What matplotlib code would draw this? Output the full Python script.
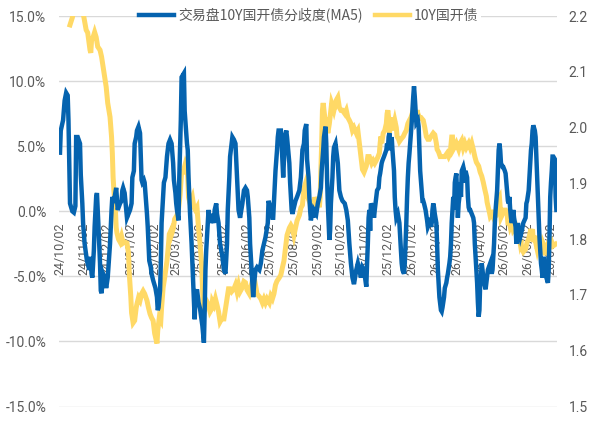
import datetime as dt
import numpy as np
import matplotlib
matplotlib.use("Agg")
import matplotlib.pyplot as plt
import matplotlib.dates as mdates
import matplotlib.transforms as mtransforms
from matplotlib.lines import Line2D
from matplotlib.ticker import FixedLocator, FuncFormatter

plt.rcParams['font.family'] = ['Noto Sans CJK SC', 'DejaVu Sans']
TICK_FAMILY = ['Roboto', 'Noto Sans CJK SC', 'DejaVu Sans']

# ---------------- data ----------------
start_date = "2024-10-02"
series_names = ["交易盘10Y国开债分歧度(MA5)", "10Y国开债"]

# blue: divergence MA5 (%), day offsets from start_date
div_days = [0, 1, 4, 6, 8, 10, 11, 12, 13, 16, 18, 20, 21, 23, 26, 27, 29, 30, 32, 35, 38, 40, 41, 42, 44, 45, 47, 48, 50, 52,
            53, 54, 56, 58, 60, 62, 65, 67, 68, 69, 71, 73, 75, 78, 80, 81, 82, 84, 86, 87, 89, 91, 93, 94, 96, 97, 99, 100, 102, 104,
            105, 106, 107, 109, 110, 112, 113, 114, 115, 116, 118, 119, 121, 124, 126, 127, 128, 130, 131, 132, 134, 135, 137, 138, 139, 141, 143, 145, 147, 148,
            150, 151, 152, 154, 155, 157, 158, 161, 162, 164, 165, 166, 167, 168, 169, 171, 172, 173, 174, 175, 176, 178, 180, 182, 185, 187, 188, 189, 190, 191,
            192, 193, 194, 195, 197, 198, 200, 201, 203, 204, 206, 208, 211, 213, 215, 217, 218, 220, 221, 223, 224, 226, 228, 229, 230, 231, 232, 234, 237, 239,
            241, 243, 244, 246, 247, 249, 250, 251, 253, 254, 256, 259, 261, 263, 265, 267, 270, 271, 272, 274, 276, 277, 279, 280, 282, 283, 284, 287, 288, 289,
            290, 291, 292, 294, 295, 298, 299, 301, 302, 304, 306, 308, 311, 313, 315, 317, 318, 320, 321, 323, 324, 325, 326, 328, 329, 330, 333, 335, 337, 339,
            340, 342, 343, 345, 346, 347, 348, 349, 350, 351, 352, 354, 355, 356, 358, 359, 361, 363, 365, 367, 370, 372, 374, 376, 378, 380, 382, 385, 387, 389,
            391, 393, 395, 398, 399, 400, 401, 402, 403, 404, 406, 407, 408, 409, 411, 412, 414, 415, 416, 418, 419, 421, 424, 425, 426, 427, 428, 429, 430, 431,
            432, 434, 435, 436, 437, 439, 441, 442, 443, 444, 445, 447, 448, 449, 450, 451, 452, 453, 454, 456, 457, 458, 459, 460, 461, 462, 463, 465, 466, 467,
            468, 470, 471, 472, 473, 475, 477, 478, 480, 481, 482, 483, 484, 485, 486, 487, 489, 490, 491, 492, 493, 495, 496, 497, 499, 500, 502, 503, 504, 506,
            507, 508, 509, 510, 511, 512, 513, 514, 515, 516, 517, 518, 519, 520, 521, 522, 524, 525, 526, 527, 529, 530, 531, 532, 533, 535, 537, 538, 539, 540,
            541, 542, 543, 544, 545, 546, 547, 548, 549, 550, 551, 553, 554, 556, 559, 560, 561, 562, 563, 564, 565, 566, 568, 569, 570, 571, 572, 573, 575, 576,
            578, 579, 580, 581, 582, 583, 584, 585, 586, 587, 588, 589, 590, 592, 593, 594, 595, 596, 598, 600, 602, 605, 606, 607, 609, 610, 611, 612, 613, 614,
            615, 617, 618, 619, 620, 621, 622, 623, 624, 625, 626, 627, 628, 629, 630, 631, 632, 633, 634, 635, 636, 637, 638, 639, 640, 641, 643, 644, 645]
div_vals = [4.5, 6.2, 7.0, 8.5, 9.1, 8.9, 7.0, 3.9, 0.6, 0.0, -0.1, 0.4, 5.7, 5.7, 5.2, 2.8, 0.6, -0.9, -2.5, -3.8, -4.5, -3.5, -4.8, -5.1, -3.0, -1.2, 1.1, 1.4, -1.2, -4.0,
            -6.1, -6.3, -4.8, -5.1, -5.9, -5.1, -2.5, 0.1, 1.1, 0.8, 1.1, 1.8, 0.1, 0.6, 0.8, 1.6, 1.8, 1.4, 0.1, -0.5, -0.2, 0.1, 0.6, 2.6, 3.1, 5.2, 5.7, 6.2, 6.5, 6.0,
            4.2, 2.4, 2.2, 2.4, 2.2, 0.6, -0.2, -1.2, -2.5, -3.8, -4.3, -4.8, -5.3, -5.9, -6.6, -7.6, -7.4, -6.1, -4.0, -0.9, 1.1, 2.2, 2.6, 3.4, 4.2, 5.2, 5.5, 5.2, 3.7, 2.4,
            1.4, 0.6, 0.1, -0.7, 2.6, 7.0, 10.3, 10.6, 7.7, 6.0, 5.2, 4.7, 2.6, 1.1, -0.2, -2.5, -4.0, -5.5, -6.8, -8.3, -6.5, -6.0, -7.0, -7.5, -8.8, -10.1, -7.6, -4.5, -3.0, -2.0,
            -0.9, 0.1, -0.5, -0.9, -0.2, -0.5, -0.9, 0.1, 0.6, -0.2, -0.9, -2.5, -3.5, -4.5, -4.8, -2.5, 0.1, 2.6, 4.2, 5.2, 5.7, 5.5, 5.2, 3.9, 2.6, 1.4, 0.1, -0.5, 0.6, 1.6,
            1.8, 1.6, 1.1, -0.5, -2.5, -4.5, -5.5, -6.6, -5.1, -4.5, -4.3, -4.5, -4.0, -3.0, -2.5, -2.0, -0.9, 0.8, 0.6, 0.1, -0.5, -0.5, 1.8, 3.1, 4.7, 5.7, 6.2, 6.2, 5.2, 3.9,
            2.6, 3.9, 5.7, 6.2, 5.7, 3.7, 2.2, 0.1, -0.2, 0.3, 0.8, 1.1, 1.6, 2.6, 4.7, 5.2, 6.2, 6.7, 4.0, 2.6, 1.1, 0.1, -0.7, 0.1, -0.5, 0.1, -0.2, 0.6, 1.1, 1.8,
            3.1, 4.7, 5.7, 6.5, 5.2, 2.6, 0.6, -0.9, -2.2, -1.5, 0.6, 2.6, 4.2, 4.9, 5.2, 4.7, 3.7, 1.6, 1.1, 0.8, 0.6, 0.1, -0.7, -2.5, -4.0, -5.1, -5.6, -4.5, -4.0, -4.5,
            -5.1, -4.3, -4.5, -5.8, -4.0, -2.5, -0.5, 0.1, -1.5, 0.6, 0.3, 0.1, -0.5, 0.1, 1.1, 1.6, 1.8, 2.6, 2.9, 3.7, 3.9, 4.2, 4.7, 5.2, 4.7, 5.7, 6.0, 5.2, 4.7, 5.7,
            4.7, 3.1, 1.1, 0.1, -0.5, -0.2, -0.9, -2.0, -3.0, -4.0, -4.5, -4.8, -4.0, -2.5, -0.9, 1.1, 2.6, 3.7, 4.4, 6.0, 6.8, 7.8, 8.8, 9.6, 8.8, 7.8, 6.8, 7.0, 6.5, 4.7,
            3.1, 1.6, 0.8, 0.8, 0.6, 0.1, -0.7, -1.2, -0.9, -0.5, -1.2, -0.9, 0.1, 0.6, 0.3, -0.2, -0.9, -2.5, -4.5, -5.5, -6.6, -7.6, -7.7, -7.4, -6.6, -5.9, -5.5, -5.1, -4.8, -4.0,
            -3.5, -2.5, -0.9, 0.1, 1.1, 0.1, 2.2, 2.6, 2.9, 1.1, -0.5, 0.6, 1.1, 2.2, 1.1, 3.1, 3.4, 3.1, 2.2, 3.1, 2.6, 1.1, 0.3, 0.1, 0.1, -0.2, -0.5, -0.9, -2.5, -3.5,
            -4.5, -5.5, -7.0, -8.1, -7.6, -5.5, -5.1, -4.0, -4.5, -5.1, -5.5, -6.0, -5.5, -4.5, -4.0, -4.5, -4.8, -4.5, -3.5, -2.5, -0.9, 0.1, 1.6, 3.1, 4.7, 5.2, 4.7, 3.7, 3.4, 3.4,
            3.1, 2.9, 2.2, 1.4, 0.8, 0.6, 1.1, 0.1, -0.5, -0.9, -0.5, 0.1, -0.5, -1.2, -2.5, -2.0, -0.9, -1.5, -2.0, -1.5, -0.9, -0.5, 0.6, 0.8, 1.6, 2.6, 3.7, 4.7, 5.2, 6.2,
            6.6, 6.2, 5.7, 4.2, 2.6, 1.1, -0.5, -2.0, -3.0, -4.0, -4.5, -5.1, -4.0, -3.5, -4.0, -4.5, -5.1, -5.3, -5.5, -4.5, -2.0, 1.1, 2.2, 3.1, 4.2, 4.2, 4.0, 1.1, 0.1]

# yellow: 10Y CDB yield (%), day offsets from start_date
cdb_days = [13, 16, 18, 21, 25, 30, 31, 34, 36, 39, 40, 41, 43, 45, 47, 49, 52, 54, 56, 58, 60, 62, 65, 67, 68, 69, 70, 72, 73, 74,
            76, 78, 80, 82, 84, 87, 89, 90, 92, 93, 95, 97, 99, 100, 102, 104, 106, 108, 110, 113, 115, 117, 119, 121, 123, 126, 127, 129, 131, 132,
            134, 136, 139, 141, 142, 144, 145, 147, 149, 152, 154, 156, 158, 160, 163, 165, 166, 167, 169, 172, 174, 176, 178, 179, 180, 182, 184, 185, 186, 187,
            188, 189, 191, 193, 195, 197, 198, 200, 202, 204, 206, 208, 210, 213, 215, 217, 219, 221, 223, 226, 228, 230, 232, 234, 236, 239, 241, 243, 246, 248,
            250, 252, 254, 256, 259, 261, 263, 265, 267, 269, 272, 274, 276, 278, 280, 282, 285, 287, 289, 291, 293, 295, 298, 300, 302, 304, 306, 308, 311, 313,
            315, 317, 319, 322, 325, 326, 329, 331, 333, 335, 337, 338, 339, 340, 341, 342, 343, 345, 346, 348, 350, 352, 353, 355, 356, 359, 361, 363, 365, 367,
            370, 372, 374, 376, 378, 380, 382, 385, 387, 389, 391, 393, 395, 398, 400, 402, 405, 407, 409, 411, 413, 415, 416, 417, 418, 420, 422, 424, 425, 426,
            427, 428, 430, 431, 432, 435, 437, 438, 440, 441, 443, 446, 448, 450, 452, 454, 456, 459, 460, 461, 462, 463, 464, 465, 467, 469, 472, 474, 476, 478,
            480, 482, 485, 487, 489, 490, 492, 494, 496, 498, 500, 503, 505, 507, 509, 510, 511, 513, 515, 518, 520, 522, 524, 526, 528, 531, 533, 535, 537, 539,
            541, 544, 546, 548, 550, 552, 554, 555, 557, 558, 559, 561, 563, 564, 566, 568, 569, 571, 572, 573, 575, 576, 579, 581, 582, 584, 585, 587, 589, 592,
            594, 595, 596, 598, 599, 600, 602, 605, 607, 609, 611, 612, 613, 614, 615, 617, 618, 620, 622, 625, 627, 629, 631, 632, 633, 635, 637, 639, 641, 644]
cdb_vals = [2.184, 2.197, 2.21, 2.215, 2.21, 2.205, 2.198, 2.175, 2.170, 2.139, 2.134, 2.157, 2.162, 2.171, 2.162, 2.145, 2.139, 2.127, 2.109, 2.091, 2.073, 2.044, 2.019, 1.983, 1.954, 1.911, 1.888, 1.852, 1.821, 1.811,
            1.800, 1.795, 1.805, 1.793, 1.795, 1.793, 1.775, 1.739, 1.697, 1.668, 1.650, 1.654, 1.677, 1.684, 1.695, 1.690, 1.702, 1.707, 1.702, 1.690, 1.677, 1.666, 1.659, 1.654, 1.631, 1.613, 1.636, 1.659, 1.654, 1.677,
            1.713, 1.731, 1.761, 1.791, 1.809, 1.815, 1.809, 1.818, 1.836, 1.843, 1.854, 1.879, 1.920, 1.920, 1.936, 1.929, 1.911, 1.875, 1.864, 1.875, 1.857, 1.852, 1.857, 1.838, 1.820, 1.791, 1.755, 1.718, 1.682, 1.670,
            1.682, 1.693, 1.688, 1.682, 1.670, 1.675, 1.688, 1.682, 1.693, 1.682, 1.670, 1.652, 1.657, 1.657, 1.675, 1.693, 1.711, 1.711, 1.706, 1.711, 1.718, 1.706, 1.718, 1.706, 1.711, 1.724, 1.722, 1.709, 1.702, 1.714,
            1.709, 1.714, 1.718, 1.702, 1.697, 1.693, 1.686, 1.693, 1.686, 1.693, 1.686, 1.698, 1.693, 1.702, 1.718, 1.725, 1.731, 1.736, 1.749, 1.761, 1.784, 1.807, 1.820, 1.825, 1.820, 1.807, 1.820, 1.833, 1.843, 1.856,
            1.861, 1.891, 1.900, 1.875, 1.864, 1.852, 1.857, 1.875, 1.864, 1.875, 1.857, 1.875, 1.923, 1.972, 2.031, 2.044, 2.031, 2.007, 2.018, 1.990, 2.007, 2.031, 2.044, 2.036, 2.031, 2.049, 2.054, 2.036, 2.031, 2.031,
            2.025, 2.031, 2.018, 2.013, 2.007, 1.995, 2.000, 1.990, 1.995, 1.972, 1.948, 1.925, 1.920, 1.931, 1.948, 1.948, 1.936, 1.941, 1.936, 1.941, 1.947, 1.954, 1.972, 1.984, 1.972, 1.990, 1.995, 2.007, 2.025, 2.031,
            2.018, 1.990, 2.013, 2.018, 1.995, 2.013, 2.000, 1.984, 1.979, 1.975, 1.979, 1.984, 1.990, 1.995, 2.007, 2.013, 2.018, 2.031, 2.049, 2.018, 2.031, 2.018, 2.031, 2.025, 2.018, 2.018, 2.013, 2.000, 1.984, 1.979,
            1.979, 1.984, 1.990, 1.987, 1.972, 1.961, 1.956, 1.948, 1.948, 1.948, 1.948, 1.954, 1.948, 1.954, 1.983, 1.983, 1.961, 1.966, 1.972, 1.961, 1.972, 1.977, 1.964, 1.972, 1.964, 1.972, 1.964, 1.972, 1.961, 1.948,
            1.938, 1.931, 1.920, 1.913, 1.902, 1.889, 1.877, 1.866, 1.854, 1.848, 1.841, 1.845, 1.839, 1.852, 1.839, 1.864, 1.870, 1.875, 1.857, 1.839, 1.845, 1.852, 1.852, 1.845, 1.829, 1.829, 1.822, 1.829, 1.816, 1.822,
            1.804, 1.816, 1.811, 1.793, 1.798, 1.782, 1.777, 1.782, 1.795, 1.800, 1.813, 1.818, 1.806, 1.818, 1.795, 1.806, 1.795, 1.782, 1.795, 1.782, 1.795, 1.788, 1.771, 1.782, 1.788, 1.795, 1.788, 1.795, 1.788, 1.791]

left_ticks = [-15, -10, -5, 0, 5, 10, 15]
right_ticks = [1.5, 1.6, 1.7, 1.8, 1.9, 2.0, 2.1, 2.2]
month_ticks = ["2024-10-02", "2024-11-02", "2024-12-02", "2025-01-02", "2025-02-02", "2025-03-02", "2025-04-02",
               "2025-05-02", "2025-06-02", "2025-07-02", "2025-08-02", "2025-09-02", "2025-10-02", "2025-11-02",
               "2025-12-02", "2026-01-02", "2026-02-02", "2026-03-02", "2026-04-02", "2026-05-02", "2026-06-02",
               "2026-07-02"]

# ---------------- styling ----------------
BLUE = "#0563AF"
YELLOW = "#FFD966"
GRID = "#D9D9D9"
TXT = "#595959"

t0 = np.datetime64(start_date)
div_dates = (t0 + np.array(div_days).astype("timedelta64[D]")).astype("datetime64[ms]").astype(dt.datetime)
cdb_dates = (t0 + np.array(cdb_days).astype("timedelta64[D]")).astype("datetime64[ms]").astype(dt.datetime)
tick_dates = [dt.datetime.strptime(s, "%Y-%m-%d") for s in month_ticks]

fig = plt.figure(figsize=(5.9, 4.25), dpi=100)
ax = fig.add_axes([59 / 590, 1 - 406.5 / 425, (557 - 59) / 590, (406.5 - 16) / 425])
ax2 = ax.twinx()

ax.set_zorder(ax2.get_zorder() + 1)
ax.patch.set_visible(False)

# gridlines (left-axis positions) drawn underneath both series
gtrans = mtransforms.blended_transform_factory(ax2.transAxes, ax.transData)
for v in left_ticks:
    ax2.add_line(Line2D([0, 1], [v, v], transform=gtrans, color=GRID, lw=1.0, zorder=0.5))

l2, = ax2.plot(cdb_dates, cdb_vals, color=YELLOW, lw=3.6, solid_joinstyle="miter", zorder=2)
l1, = ax.plot(div_dates, div_vals, color=BLUE, lw=3.2, solid_joinstyle="miter", zorder=3)

x_lo = dt.datetime.strptime(start_date, "%Y-%m-%d") - dt.timedelta(days=1.3)
x_hi = dt.datetime.strptime(start_date, "%Y-%m-%d") + dt.timedelta(days=645.8)
ax.set_xlim(x_lo, x_hi)
ax.set_ylim(-15, 15)
ax2.set_ylim(1.5, 2.2)

for a in (ax, ax2):
    for s in a.spines.values():
        s.set_visible(False)

# x tick labels live on the lower (yellow) axes so both lines are drawn over them,
# with that axes' x-axis placed at the left axis' 0% line
ax.xaxis.set_major_locator(FixedLocator(mdates.date2num(tick_dates)))
ax.xaxis.set_major_formatter(mdates.DateFormatter("%y/%m/%d"))
ax.xaxis.set_minor_locator(FixedLocator(mdates.date2num(tick_dates[::2])))
ax.tick_params(axis="x", which="both", length=0, labelbottom=False)

ax2.xaxis.set_visible(True)
ax2.spines["bottom"].set_position(("data", 1.85))
ax2.tick_params(axis="x", which="major", length=0, pad=8, labelsize=9, labelcolor=TXT,
                rotation=90, labelbottom=True)
ax2.tick_params(axis="x", which="minor", length=4, width=1, color=GRID, direction="out",
                bottom=True, labelbottom=False)

ax.set_yticks(left_ticks)
ax.yaxis.set_major_formatter(FuncFormatter(lambda v, p: f"{v:.1f}%"))
ax.tick_params(axis="y", length=0, pad=9, labelsize=10, labelcolor=TXT)

ax2.set_yticks(right_ticks)
ax2.yaxis.set_major_formatter(FuncFormatter(lambda v, p: f"{v:.1f}"))
ax2.tick_params(axis="y", length=0, pad=8.5, labelsize=10, labelcolor=TXT)

for lab in ax2.get_xticklabels() + ax.get_yticklabels() + ax2.get_yticklabels():
    lab.set_family(TICK_FAMILY)

leg = ax.legend([l1, l2], series_names, loc="center", bbox_to_anchor=(309 / 590, 1 - 15 / 425),
                bbox_transform=fig.transFigure, ncol=2, frameon=True, fontsize=10,
                handlelength=2.5, handletextpad=0.3, columnspacing=0.9, borderpad=0.2,
                fancybox=False)
leg.get_frame().set_facecolor("white")
leg.get_frame().set_edgecolor("none")
leg.get_frame().set_alpha(1)
for t in leg.get_texts():
    t.set_color(TXT)
for h in leg.get_lines():
    h.set_linewidth(3.2)

fig.savefig("out.png", dpi=100)
